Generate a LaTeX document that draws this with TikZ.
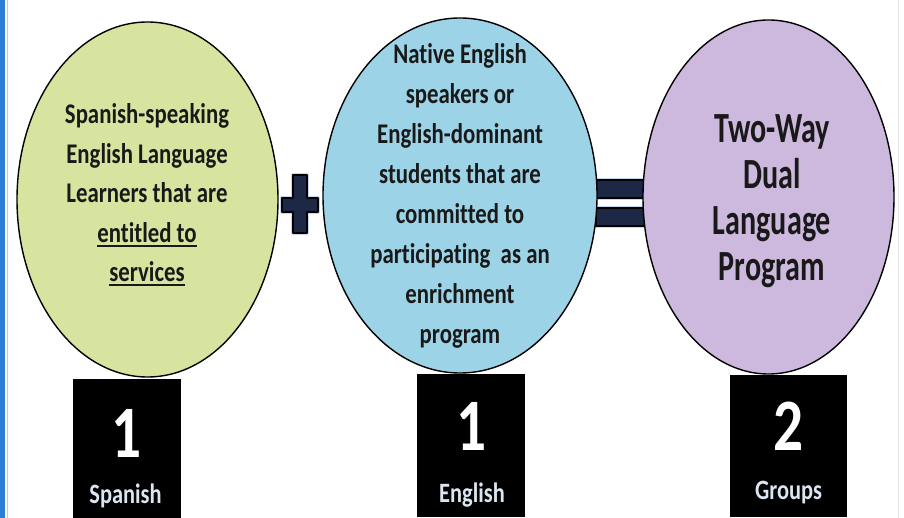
\documentclass[tikz,border=0pt]{standalone}
\usepackage{fontspec}
\setmainfont{Carlito}
\newfontfamily\calf[FakeStretch=0.8,Ligatures=NoCommon]{Carlito}
\newfontfamily\calg[FakeStretch=0.7,Ligatures=NoCommon]{Carlito}
\usetikzlibrary{shapes.geometric}
\definecolor{cgreen}{RGB}{214,228,160}
\definecolor{cblue}{RGB}{157,211,230}
\definecolor{cpurple}{RGB}{205,184,222}
\definecolor{cnavy}{RGB}{28,40,70}
\definecolor{cglow}{RGB}{150,190,230}
\definecolor{clabel}{RGB}{220,230,242}
\definecolor{cstrip}{RGB}{45,125,210}
\newcommand\myul[1]{\setbox0\hbox{#1}\rlap{\rule[-4.5pt]{\wd0}{2pt}}\box0}
\begin{document}
\begin{tikzpicture}[x=1pt,y=-1pt,
  bubble/.style={ellipse, draw=black, line width=1.4pt, inner sep=0pt},
  bodytext/.style={align=center, inner sep=0pt, text=black!90,
    font=\calf\bfseries\fontsize{28.5}{40}\selectfont},
  bigtext/.style={align=center, inner sep=0pt, text=black!90,
    font=\calg\bfseries\fontsize{43}{46}\selectfont},
  blackbox/.style={fill=black, draw=none, inner sep=0pt, anchor=north west},
  numtext/.style={inner sep=0pt, anchor=base, text=white,
    font=\calf\bfseries\fontsize{74}{74}\selectfont},
  labeltext/.style={inner sep=0pt, anchor=base, text=clabel,
    font=\calf\bfseries\fontsize{28}{28}\selectfont},
  sign/.style={fill=cnavy, draw=black, line width=1.4pt, line join=round},
  glow/.style={draw=cglow, line width=4pt, line join=round, opacity=0.6}
]
\useasboundingbox (0,0) rectangle (904,518);
\fill[white] (0,0) rectangle (904,518);
% side strips
\fill[cstrip] (0,0) rectangle (5,518);
\draw[gray!45, line width=1pt] (7.5,0) -- (7.5,518);
\draw[gray!20, line width=1pt] (898.5,0) -- (898.5,518);

% equals sign (under the bubbles)
\draw[glow] (596,180) rectangle (646,198);
\draw[glow] (596,208) rectangle (646,226);
\path[sign] (596,180) rectangle (646,198);
\path[sign] (596,208) rectangle (646,226);

% bubbles
\node[bubble, fill=cgreen, minimum width=261pt, minimum height=355pt] (spanish) at (147.5,199.5) {};
\node[bubble, fill=cblue, minimum width=274pt, minimum height=355pt] (english) at (460,195.5) {};
\node[bubble, fill=cpurple, minimum width=251pt, minimum height=354pt] (program) at (768.5,197) {};

% plus sign
\draw[glow] (293,175) -- (307,175) -- (307,198) -- (318,198) -- (318,212) -- (307,212) -- (307,233) -- (293,233) -- (293,212) -- (282,212) -- (282,198) -- (293,198) -- cycle;
\path[sign] (293,175) -- (307,175) -- (307,198) -- (318,198) -- (318,212) -- (307,212) -- (307,233) -- (293,233) -- (293,212) -- (282,212) -- (282,198) -- (293,198) -- cycle;

% texts
\node[bodytext, font=\calf\bfseries\fontsize{28.5}{39.5}\selectfont] (spanishtext) at (147,195)
  {Spanish-speaking\\English Language\\Learners that are\\\myul{entitled to}\\\myul{services}};
\node[bodytext] (englishtext) at (460,196)
  {Native English\\speakers or\\English-dominant\\students that are\\committed to\\participating\ \ as an\\enrichment\\program};
\node[bigtext] (programtext) at (772,201)
  {Two-Way\\Dual\\Language\\Program};

% black boxes
\node[blackbox, minimum width=108pt, minimum height=139pt] (box1) at (73,379) {};
\node[blackbox, minimum width=108pt, minimum height=143pt] (box2) at (417,374) {};
\node[blackbox, minimum width=117pt, minimum height=142pt] (box3) at (730,375) {};

\node[numtext] (num1) at (127,457) {1};
\node[numtext] (num2) at (471,450) {1};
\node[numtext] (num3) at (788.5,450) {2};

\node[labeltext] (lab1) at (125.5,503) {Spanish};
\node[labeltext] (lab2) at (472,502) {English};
\node[labeltext] (lab3) at (788.5,499) {Groups};
\end{tikzpicture}
\end{document}
